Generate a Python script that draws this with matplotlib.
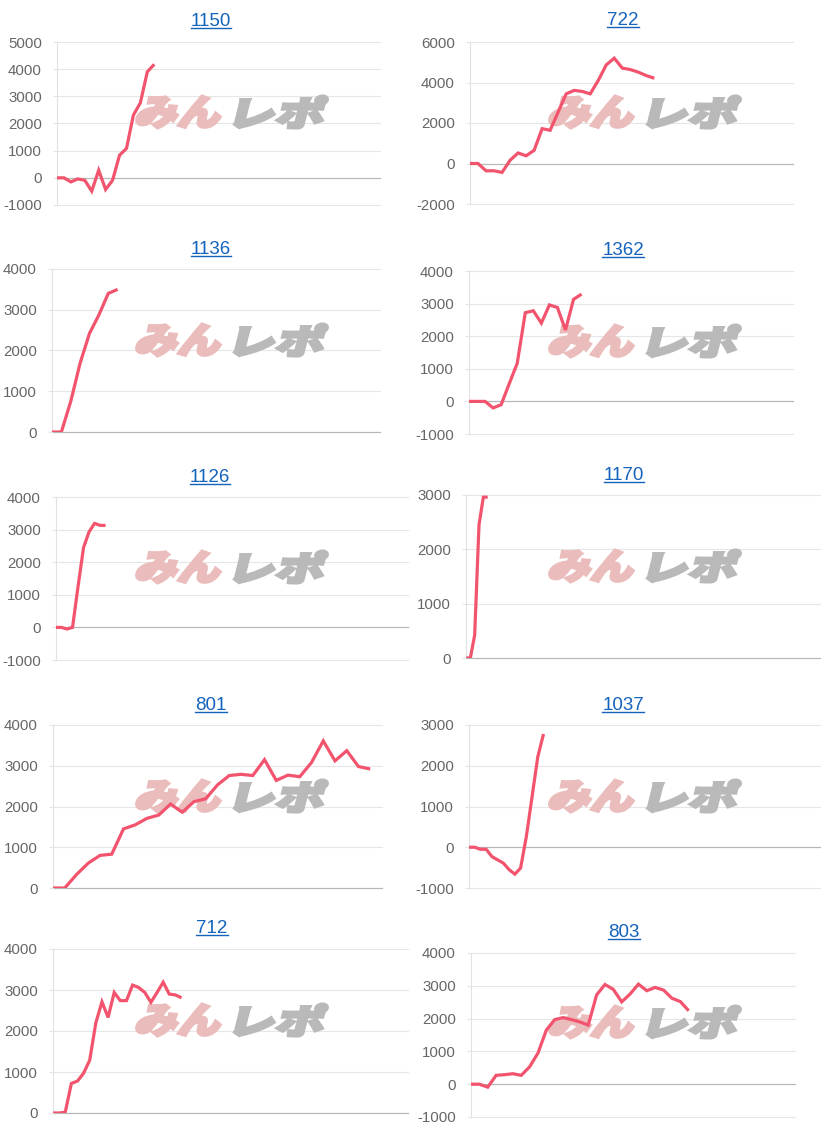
import matplotlib
matplotlib.use("Agg")
import matplotlib.pyplot as plt
import numpy as np
from matplotlib.textpath import TextPath
from matplotlib.patches import PathPatch
from matplotlib.font_manager import FontProperties
from matplotlib.transforms import Affine2D
from matplotlib.lines import Line2D

# ---------------- data ----------------
titles = ["1150", "722", "1136", "1362", "1126", "1170", "801", "1037", "712", "803"]

v1150 = [0, 0, -150, -40, -90, -490, 280, -430, -90, 830, 1080, 2310, 2760, 3900, 4180]
v722 = [0, 0, -360, -360, -440, 160, 520, 380, 650, 1720, 1640, 2540, 3440, 3610, 3560,
        3440, 4100, 4870, 5200, 4710, 4640, 4510, 4340, 4210]
v1136 = [0, 0, 750, 1690, 2420, 2870, 3400, 3500]
v1362 = [0, 0, 0, -200, -100, 540, 1170, 2720, 2780, 2400, 2960, 2880, 2190, 3130, 3290]
v1126 = [0, 0, -50, 0, 1250, 2450, 2930, 3190, 3130, 3130]
v1170 = [0, 0, 420, 2450, 2960, 2960]
v801 = [0, 0, 330, 610, 800, 830, 1450, 1550, 1710, 1790, 2060, 1860, 2120, 2190, 2530,
        2760, 2790, 2760, 3150, 2640, 2770, 2730, 3080, 3610, 3120, 3370, 2980, 2920]
v1037 = [0, 0, -50, -50, -230, -310, -390, -550, -660, -510, 260, 1240, 2220, 2780]
v712 = [0, 0, 20, 720, 780, 970, 1290, 2200, 2710, 2330, 2940, 2740, 2740, 3120, 3060,
        2940, 2700, 2940, 3190, 2900, 2880, 2810]
v803 = [0, 0, -90, 270, 290, 320, 270, 530, 950, 1650, 1970, 2030, 1970, 1900, 1800,
        2720, 3040, 2890, 2510, 2750, 3050, 2850, 2950, 2870, 2620, 2520, 2240]

series = [v1150, v722, v1136, v1362, v1126, v1170, v801, v1037, v712, v803]
y_ranges = [(-1000, 5000, 1000), (-2000, 6000, 2000), (0, 4000, 1000), (-1000, 4000, 1000),
            (-1000, 4000, 1000), (0, 3000, 1000), (0, 4000, 1000), (-1000, 3000, 1000),
            (0, 4000, 1000), (-1000, 4000, 1000)]
x_max = [46.5, 40.3, 35.0, 40.3, 63.9, 81.9, 28.0, 61.4, 58.0, 38.7]

# ---------------- layout (pixels, top-origin) ----------------
W, H = 821, 1130
boxes = [(57, 380, 42, 205), (470, 793, 42, 204),
         (52, 380, 269, 432), (469, 793, 271, 434),
         (56, 408, 497, 660), (466, 821, 495, 658),
         (53, 382, 725, 888), (469, 821, 725, 888),
         (53, 408, 949, 1113), (471, 795, 953, 1117)]
title_pos = [(211, 19), (623, 18), (211, 247), (623, 248), (210, 475), (624, 473),
             (211, 703), (623, 703), (212, 926), (624, 930)]
wm_pos = [(231, 112), (644, 112), (231, 340), (644, 341), (231, 567), (644, 566),
          (231, 796), (644, 796), (231, 1020), (644, 1022)]

LINE = "#f2546e"
BLUE = "#1463bd"
GRID = "#e6e6e6"
ZERO = "#b8b8b8"
TICK = "#666666"

fig = plt.figure(figsize=(W / 100, H / 100), dpi=100)
fig.patch.set_facecolor("white")
px2fig = Affine2D().scale(1.0 / W, 1.0 / H) + fig.transFigure

fp_wm = FontProperties(family="Noto Sans CJK JP", weight="black")


def watermark_part(ax, text, x0, x1, yc, h, color):
    tp = TextPath((0, 0), text, size=100, prop=fp_wm)
    ext = tp.get_extents()
    skew = 14
    pad = 1.5
    shift = (h - 2 * pad) * np.tan(np.radians(skew))
    sx = (x1 - x0 - shift - 2 * pad) / ext.width
    sy = (h - 2 * pad) / ext.height
    tr = (Affine2D().translate(-ext.x0, -ext.y0).scale(sx, sy)
          .skew_deg(skew, 0).translate(x0 + pad, H - yc - h / 2 + pad))
    path = tr.transform_path(tp)
    patch = PathPatch(path, facecolor=color, edgecolor=color, linewidth=2.2,
                      joinstyle="miter", transform=px2fig, zorder=1.5)
    ax.add_artist(patch)
    patch.set_clip_on(False)


axes = []
for i, vals in enumerate(series):
    l, r, t, b = boxes[i]
    ax = fig.add_axes([l / W, 1 - b / H, (r - l) / W, (b - t) / H])
    ax.patch.set_visible(False)
    lo, hi, st = y_ranges[i]
    ticks = np.arange(lo, hi + 1, st)
    for tv in ticks:
        ax.axhline(tv, color=ZERO if tv == 0 else GRID, lw=0.9 if tv == 0 else 0.8,
                   zorder=1, clip_on=False)
    x = np.arange(len(vals))
    ax.plot(x, vals, color=LINE, lw=2.3, zorder=3, solid_joinstyle="miter",
            solid_capstyle="butt")
    ax.set_xlim(0, x_max[i])
    ax.set_ylim(lo, hi)
    ax.set_yticks(ticks)
    ax.set_yticklabels([str(int(v)) for v in ticks], fontfamily="Liberation Sans")
    ax.set_xticks([])
    for s in ["top", "right", "bottom"]:
        ax.spines[s].set_visible(False)
    ax.spines["left"].set_color("#e2e2e2")
    ax.spines["left"].set_linewidth(0.8)
    ax.tick_params(axis="y", length=3, width=0.8, color=GRID, pad=8,
                   labelsize=10.8, labelcolor=TICK)
    # watermark
    cx, cy = wm_pos[i]
    watermark_part(ax, "みん", cx - 98, cx - 4, cy, 35, "#ebbcbc")
    watermark_part(ax, "レポ", cx + 1, cx + 99, cy, 35, "#b9b9b9")
    axes.append(ax)

# titles with underline
renderer = fig.canvas.get_renderer()
for i, ttl in enumerate(titles):
    tx, ty = title_pos[i]
    base = ty + 6.7
    t = fig.text(tx / W, 1 - base / H, ttl, ha="center", va="baseline", color=BLUE,
                 fontsize=13.5, fontfamily="Liberation Sans")
    bb = t.get_window_extent(renderer)
    uy = 1 - (base + 2) / H
    fig.add_artist(Line2D([bb.x0 / W, bb.x1 / W], [uy, uy], transform=fig.transFigure,
                          color=BLUE, lw=1.0))

fig.savefig("out.png", dpi=100, facecolor="white")
